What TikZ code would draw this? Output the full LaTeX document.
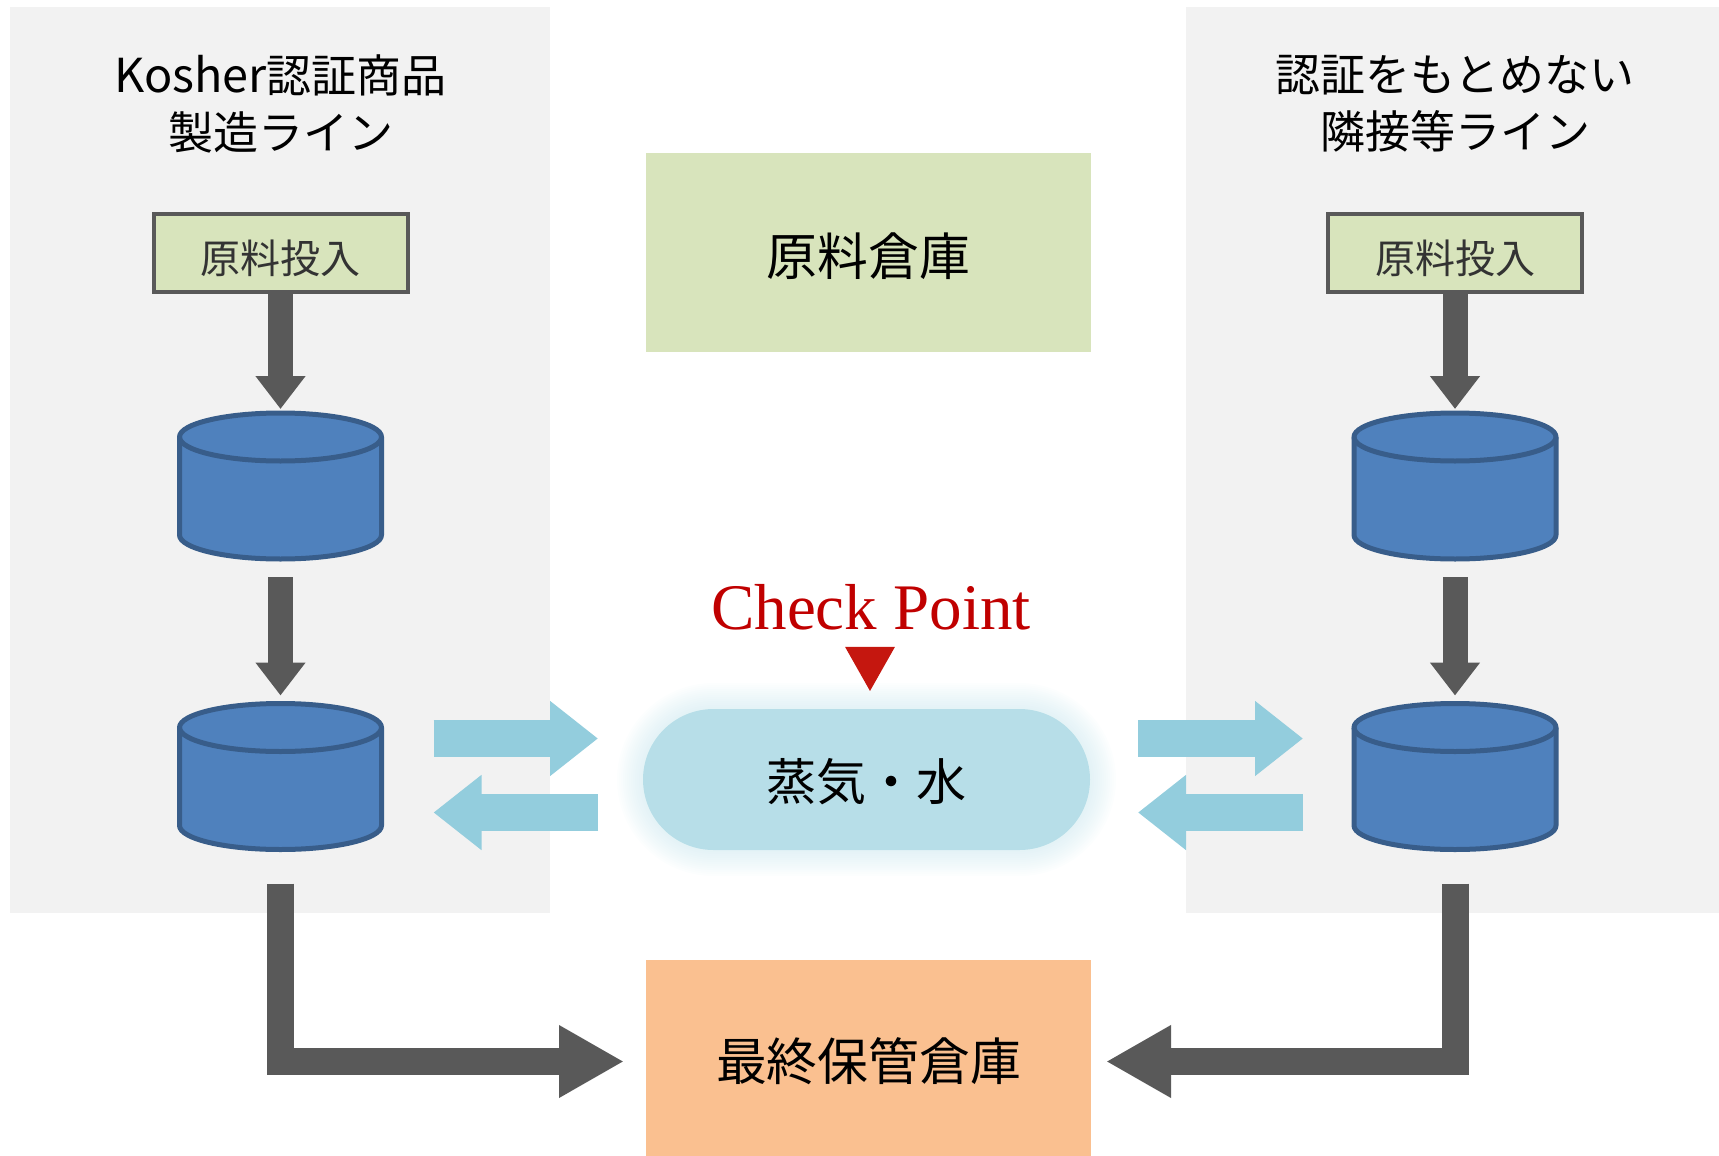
\documentclass[tikz,border=0pt]{standalone}
\usepackage{fontspec}
\setmainfont{Noto Sans CJK JP}
\newfontfamily\checkfont{Liberation Serif}
\usetikzlibrary{arrows.meta,shapes.geometric,shapes.misc}
\definecolor{panelgray}{HTML}{F2F2F2}
\definecolor{arrowgray}{HTML}{595959}
\definecolor{rawgreen}{HTML}{D8E4BC}
\definecolor{tankblue}{HTML}{4F81BD}
\definecolor{tankline}{HTML}{385D8A}
\definecolor{steamblue}{HTML}{B7DEE8}
\definecolor{flowblue}{HTML}{93CDDD}
\definecolor{storeorange}{HTML}{FAC090}
\definecolor{checkred}{HTML}{C00000}
\definecolor{markred}{HTML}{C5170F}
\tikzset{
  panel/.style={fill=panelgray,minimum width=#1,minimum height=453pt,outer sep=0pt,inner sep=0pt},
  title/.style={align=center,font=\fontsize{22.5pt}{28.5pt}\selectfont,inner sep=0pt},
  rawbox/.style={draw=arrowgray,line width=2pt,fill=rawgreen,text=black!80,minimum width=127pt,minimum height=39pt,outer sep=0pt,inner sep=0pt,text height=21pt,text depth=0pt,font=\fontsize{20pt}{24pt}\selectfont},
  tank/.style={minimum width=101pt,minimum height=73pt,outer sep=0pt,inner sep=0pt},
  tankbody/.style={draw=tankline,line width=2.5pt,fill=tankblue,line join=round},
  bigbox/.style={fill=#1,minimum width=222.5pt,outer sep=0pt,inner sep=0pt,text height=22.6pt,text depth=0pt,font=\fontsize{25.4pt}{30pt}\selectfont},
  steambox/.style={rounded rectangle,minimum width=223.5pt,minimum height=70.5pt,outer sep=0pt,inner sep=0pt},
  steamglow/.style={steambox,fill=steamblue,opacity=.035,minimum width={223.5pt+#1pt},minimum height={70.5pt+#1pt}},
  grayarrow/.style={draw=arrowgray,line width=12.5pt,-{Triangle[width=24pt,length=16.5pt]}},
  elbowarrow/.style={draw=arrowgray,line width=13.5pt,-{Triangle[width=34pt,length=32.5pt]}},
  flowarrow/.style={draw=flowblue,line width=18.5pt,-{Triangle[width=36pt,length=24pt]}}
}
% #1 name, #2 centre
\newcommand{\drawtank}[2]{
   \node[tank] (#1) at (#2) {};
   \draw[tankbody] ([yshift=-12pt]#1.north west) arc[start angle=180,end angle=0,x radius=50.5pt,y radius=12pt]
      -- ([yshift=12pt]#1.south east) arc[start angle=0,end angle=-180,x radius=50.5pt,y radius=12pt] -- cycle;
   \draw[tankbody,fill=none] ([yshift=-12pt]#1.north west) arc[start angle=180,end angle=360,x radius=50.5pt,y radius=12pt];
}
\begin{document}
\begin{tikzpicture}[x=.5pt,y=-.5pt]
   \useasboundingbox (0,0) rectangle (1719,1156);

   % gray line panels
   \node[panel=270pt] (panelL) at (280,460) {};
   \node[panel=266.5pt] (panelR) at (1452.5,460) {};
   \node[title] (titleL) at (280.5,104) {{\fontsize{23.4pt}{28.5pt}\selectfont Kosher}認証商品\\製造ライン};
   \node[title] (titleR) at (1455,104) {認証をもとめない\\隣接等ライン};

   % left line
   \node[rawbox] (rawL) at (280.5,252.5) {原料投入};
   \drawtank{tankLa}{280.5,486}
   \drawtank{tankLb}{280.5,776.5}

   % right line
   \node[rawbox] (rawR) at (1455,252.5) {原料投入};
   \drawtank{tankRa}{1455,486}
   \drawtank{tankRb}{1455,776.5}

   % middle column
   \node[bigbox=rawgreen,minimum height=99.5pt] (store) at (868.5,252.5) {原料倉庫};
   \node[bigbox=storeorange,minimum height=98pt] (final) at (868.5,1058) {最終保管倉庫};
   \foreach \g in {2,4,...,26} \node[steamglow=\g] at (866.5,779.5) {};
   \node[steambox,fill=steamblue,text height=21pt,text depth=0pt,font=\fontsize{25pt}{30pt}\selectfont] (steam) at (866.5,779.5) {蒸気・水};
   \node[text=checkred,font=\checkfont\fontsize{32.5pt}{36pt}\selectfont,inner sep=0pt] (check) at (871,607) {Check Point};
   \node[isosceles triangle,isosceles triangle apex angle=59,shape border rotate=-90,fill=markred,minimum height=22pt,inner sep=0pt,outer sep=0pt] (mark) at (870,661.5) {};

   \draw[grayarrow,shorten >=2pt] (rawL) -- (tankLa);
   \draw[grayarrow,shorten >=2pt] (rawR) -- (tankRa);
   \draw[grayarrow,shorten <=9pt,shorten >=4pt] (tankLa) -- (tankLb);
   \draw[grayarrow,shorten <=9pt,shorten >=4pt] (tankRa) -- (tankRb);

   \draw[flowarrow,shorten <=26pt,shorten >=22.5pt] ([yshift=19pt]tankLb.east) -- ([yshift=20.5pt]steam.west);
   \draw[flowarrow,shorten <=22.5pt,shorten >=26pt] ([yshift=-16.5pt]steam.west) -- ([yshift=-18pt]tankLb.east);
   \draw[flowarrow,shorten <=24pt,shorten >=25.5pt] ([yshift=20.5pt]steam.east) -- ([yshift=19pt]tankRb.west);
   \draw[flowarrow,shorten <=25.5pt,shorten >=24pt] ([yshift=-18pt]tankRb.west) -- ([yshift=-16.5pt]steam.east);

   \draw[elbowarrow,shorten <=17pt,shorten >=11pt] (tankLb.south) |- ([yshift=-1.75pt]final.west);
   \draw[elbowarrow,shorten <=17pt,shorten >=7.5pt] (tankRb.south) |- ([yshift=-1.75pt]final.east);

 \end{tikzpicture}
\end{document}
